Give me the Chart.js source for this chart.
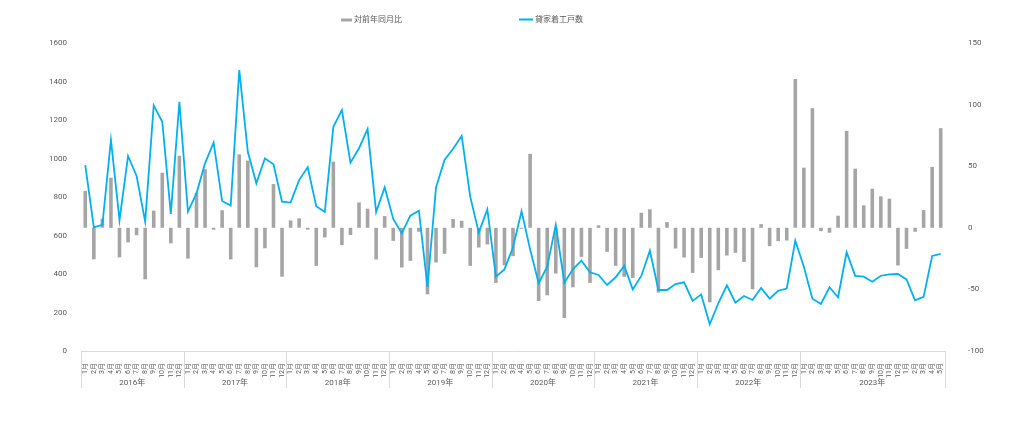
<!DOCTYPE html>
<html lang="ja">
<head>
<meta charset="utf-8">
<title>貸家着工戸数と対前年同月比</title>
<script src="https://cdn.jsdelivr.net/npm/chart.js@4.4.1/dist/chart.umd.min.js"></script>
<style>
    html, body { margin: 0; padding: 0; background: #ffffff; }
    #chart-wrap { width: 1024px; height: 437px; }
</style>
</head>
<body>
<div id="chart-wrap">
    <canvas id="rental-chart" width="1024" height="437"></canvas>
</div>
<script>
// 年ごとのグループ（ラベル, 月数）。最後のグループは元のグラフ通り17か月分
const yearGroups = [
    ['2016年', 12], ['2017年', 12], ['2018年', 12], ['2019年', 12],
    ['2020年', 12], ['2021年', 12], ['2022年', 12], ['2023年', 17]
];

// 月のラベル
const monthLabels = [
    '1月', '2月', '3月', '4月', '5月', '6月', '7月', '8月', '9月', '10月', '11月', '12月',
    '1月', '2月', '3月', '4月', '5月', '6月', '7月', '8月', '9月', '10月', '11月', '12月',
    '1月', '2月', '3月', '4月', '5月', '6月', '7月', '8月', '9月', '10月', '11月', '12月',
    '1月', '2月', '3月', '4月', '5月', '6月', '7月', '8月', '9月', '10月', '11月', '12月',
    '1月', '2月', '3月', '4月', '5月', '6月', '7月', '8月', '9月', '10月', '11月', '12月',
    '1月', '2月', '3月', '4月', '5月', '6月', '7月', '8月', '9月', '10月', '11月', '12月',
    '1月', '2月', '3月', '4月', '5月', '6月', '7月', '8月', '9月', '10月', '11月', '12月',
    '1月', '2月', '3月', '4月', '5月', '6月', '7月', '8月', '9月', '10月', '11月', '12月',
    '1月', '2月', '3月', '4月', '5月'
];

// 貸家着工戸数（左軸）
const rentalStarts = [
    966, 642, 655, 1096, 680, 1013, 909, 672, 1276, 1191, 712, 1295,
    724, 819, 975, 1082, 779, 755, 1460, 1035, 871, 1001, 970, 776,
    771, 888, 954, 752, 722, 1165, 1252, 978, 1053, 1153, 722, 850,
    686, 611, 703, 729, 334, 850, 992, 1051, 1117, 802, 615, 736,
    386, 424, 539, 726, 528, 352, 438, 655, 355, 424, 469, 409,
    395, 343, 383, 442, 320, 390, 521, 317, 317, 348, 357, 260,
    294, 139, 248, 341, 251, 286, 265, 327, 272, 313, 324, 573,
    438, 272, 244, 331, 279, 513, 390, 386, 360, 391, 398, 400,
    372, 263, 281, 494, 505
];

// 対前年同月比（右軸, %）
const yoyChange = [
    30, -25.6, 7.4, 40.7, -24, -11.8, -6, -41.8, 13.9, 44.7, -12.6, 58.5,
    -25, 28.5, 47.5, -1.5, 14.2, -25.6, 59.6, 54.5, -32, -16.6, 35.5, -39.7,
    6, 7.7, -1.5, -30.9, -7.8, 53.7, -14.1, -5.9, 20.6, 15.5, -25.7, 9.5,
    -10.6, -32.2, -26.8, -3.2, -54, -28.2, -21.1, 7.1, 5.7, -30.9, -16, -13.5,
    -44.7, -30.4, -23, -0.8, 60, -59.4, -54.8, -37.1, -73.2, -48.3, -23.6, -44.7,
    2, -19.5, -30.9, -39.8, -40.7, 12.2, 15, -52.6, 4.6, -16.8, -24.1, -36.6,
    -24.4, -60.5, -34.4, -22.5, -20.3, -27.7, -49.9, 3, -14.9, -10.8, -10.3, 120.7,
    48.8, 97.1, -2.7, -4, 9.8, 78.7, 48, 18.2, 31.7, 25.5, 23.6, -30.6,
    -17.1, -3.2, 14.4, 49.4, 80.9
];

const leftTicks = { min: 0, max: 1600, step: 200 };
const rightTicks = { min: -100, max: 150, step: 50 };

const TEXT_COLOR = '#595959';
const LINE_COLOR = '#00b0f0';
const BAR_COLOR = '#a5a5a5';
const AXIS_COLOR = '#d9d9d9';
const FONT_FAMILY = "Roboto, 'Noto Sans CJK JP', sans-serif";

// 桁区切りなしで表示
const plainNumber = value => String(value);

// 年ラベルと区切り線をx軸の下に描く
const yearGroupsPlugin = {
    id: 'yearGroups',
    afterDraw(chart) {
        const ctx = chart.ctx;
        const xScale = chart.scales.x;
        const top = chart.chartArea.bottom;
        const bottom = top + 37;

        ctx.save();
        ctx.strokeStyle = AXIS_COLOR;
        ctx.lineWidth = 1;
        ctx.fillStyle = TEXT_COLOR;
        ctx.font = '8px ' + FONT_FAMILY;
        ctx.textAlign = 'center';
        ctx.textBaseline = 'middle';

        let start = 0;
        const edges = [xScale.getPixelForValue(-0.5)];
        yearGroups.forEach(([label, count]) => {
            const x0 = xScale.getPixelForValue(start - 0.5);
            const x1 = xScale.getPixelForValue(start + count - 0.5);
            edges.push(x1);
            ctx.fillText(label, (x0 + x1) / 2, top + 32);
            start += count;
        });

        edges.forEach(x => {
            const px = Math.round(x) + 0.5;
            ctx.beginPath();
            ctx.moveTo(px, top);
            ctx.lineTo(px, bottom);
            ctx.stroke();
        });
        ctx.restore();
    }
};

// 凡例（棒: 灰色の帯, 折れ線: 青い線）
const legendPlugin = {
    id: 'topLegend',
    afterDraw(chart) {
        const ctx = chart.ctx;
        const bar = chart.data.datasets[1];
        const line = chart.data.datasets[0];

        ctx.save();
        ctx.font = '8px ' + FONT_FAMILY;
        ctx.textAlign = 'left';
        ctx.textBaseline = 'middle';

        ctx.fillStyle = bar.backgroundColor;
        ctx.fillRect(341, 18.5, 11, 3);
        ctx.fillStyle = TEXT_COLOR;
        ctx.fillText(bar.label, 354, 20);

        ctx.strokeStyle = line.borderColor;
        ctx.lineWidth = 2;
        ctx.beginPath();
        ctx.moveTo(519, 19.5);
        ctx.lineTo(533, 19.5);
        ctx.stroke();
        ctx.fillStyle = TEXT_COLOR;
        ctx.fillText(line.label, 535, 20);
        ctx.restore();
    }
};

const canvas = document.getElementById('rental-chart');

const chart = new Chart(canvas, {
    type: 'bar',
    data: {
        labels: monthLabels,
        datasets: [
            {
                type: 'line',
                label: '貸家着工戸数',
                data: rentalStarts,
                yAxisID: 'yLeft',
                borderColor: LINE_COLOR,
                backgroundColor: LINE_COLOR,
                borderWidth: 1.8,
                pointRadius: 0,
                tension: 0,
                order: 0
            },
            {
                type: 'bar',
                label: '対前年同月比',
                data: yoyChange,
                yAxisID: 'yRight',
                backgroundColor: BAR_COLOR,
                barPercentage: 0.42,
                categoryPercentage: 1,
                order: 1
            }
        ]
    },
    options: {
        responsive: false,
        animation: false,
        devicePixelRatio: 1,
        layout: {
            padding: { top: 43, left: 0, right: 0, bottom: 0 }
        },
        plugins: {
            legend: { display: false },
            tooltip: { enabled: false }
        },
        scales: {
            x: {
                grid: { display: false },
                border: { display: true, color: AXIS_COLOR },
                ticks: {
                    autoSkip: false,
                    maxRotation: 90,
                    minRotation: 90,
                    padding: 4,
                    color: TEXT_COLOR,
                    font: { family: FONT_FAMILY, size: 7 }
                },
                afterFit(scale) { scale.height = 86; }
            },
            yLeft: {
                position: 'left',
                min: leftTicks.min,
                max: leftTicks.max,
                grid: { display: false },
                border: { display: false },
                ticks: {
                    stepSize: leftTicks.step,
                    padding: 6,
                    color: TEXT_COLOR,
                    font: { family: FONT_FAMILY, size: 8 },
                    callback: plainNumber
                },
                afterFit(scale) { scale.width = 81; }
            },
            yRight: {
                position: 'right',
                min: rightTicks.min,
                max: rightTicks.max,
                grid: { display: false },
                border: { display: false },
                ticks: {
                    stepSize: rightTicks.step,
                    padding: 15,
                    color: TEXT_COLOR,
                    font: { family: FONT_FAMILY, size: 8 },
                    callback: plainNumber
                },
                afterFit(scale) { scale.width = 79; }
            }
        }
    },
    plugins: [yearGroupsPlugin, legendPlugin]
});
</script>
</body>
</html>
